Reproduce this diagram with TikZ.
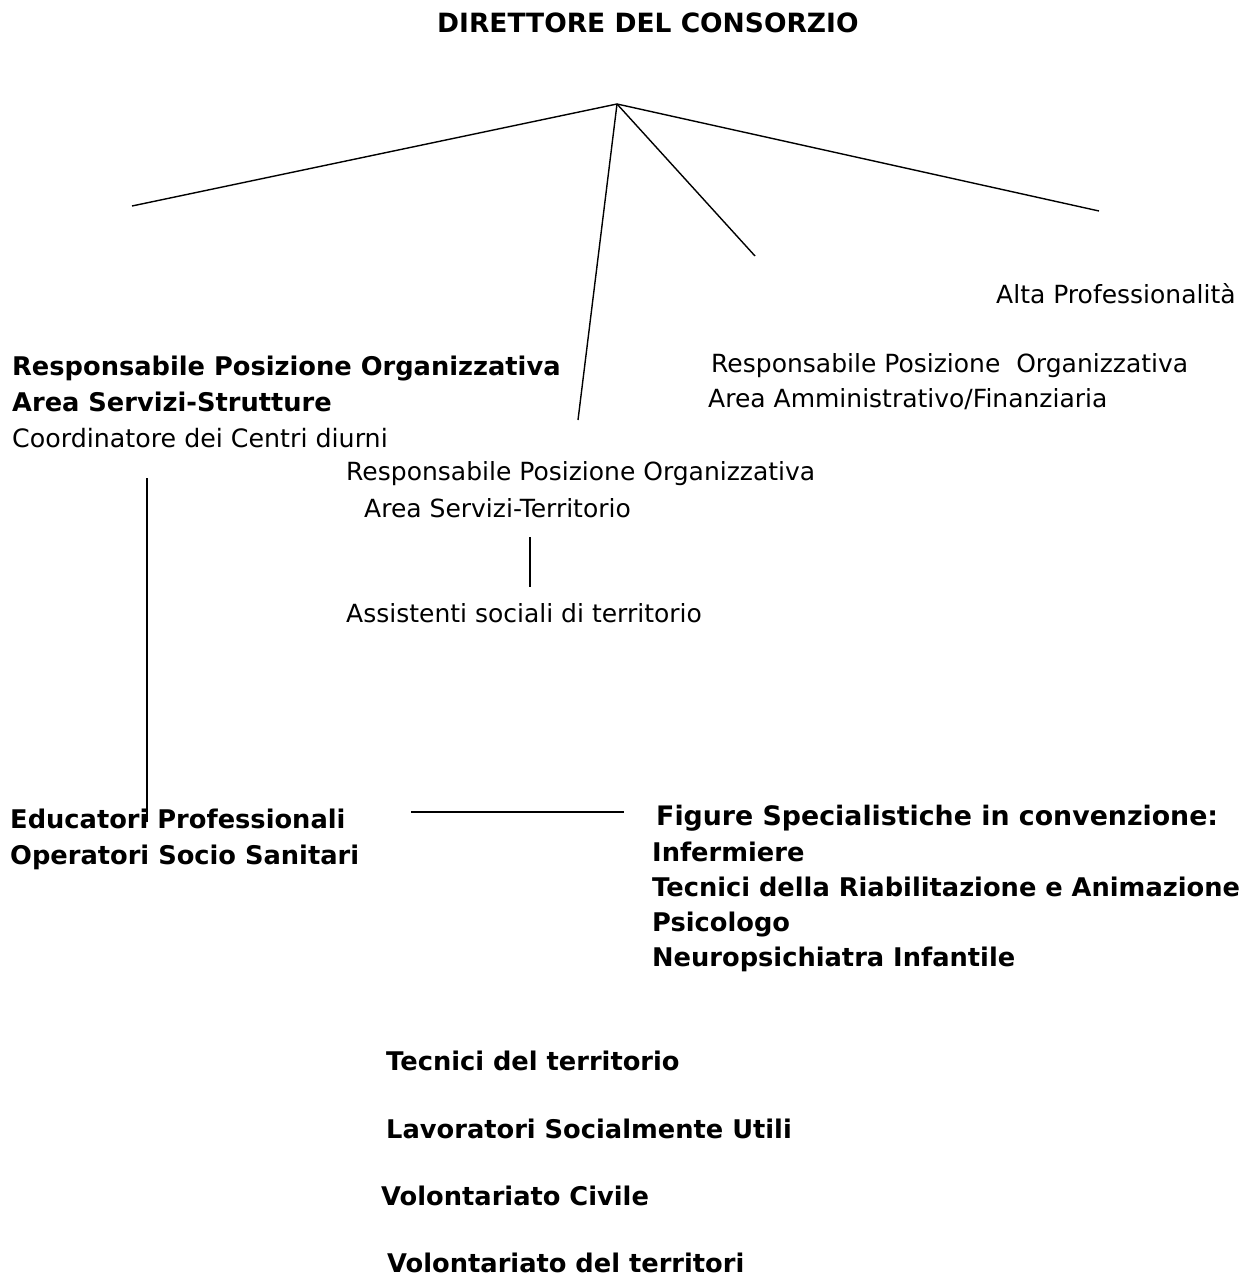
\documentclass[tikz,border=0pt]{standalone}
\usepackage{fontspec}
\setmainfont{DejaVu Sans}
\begin{document}
\begin{tikzpicture}[x=1pt,y=-1pt,
  lbl/.style={anchor=base west,inner sep=0pt,font=\fontsize{25}{36}\selectfont},
  blbl/.style={lbl,font=\fontsize{25.7}{36}\selectfont\bfseries},
  conn/.style={line width=1.4pt,black}]
\useasboundingbox[fill=white] (0,0) rectangle (1252,1276);
% texts
\node[blbl,font=\fontsize{26.5}{36}\selectfont\bfseries] (dir) at (437,33) {DIRETTORE DEL CONSORZIO};
\node[lbl] (alta) at (996,303) {Alta Professionalità};
\node[lbl] (amm1) at (711,372) {Responsabile Posizione\ \ Organizzativa};
\node[lbl] (amm2) at (708,407) {Area Amministrativo/Finanziaria};
\node[blbl] (str1) at (12,375) {Responsabile Posizione Organizzativa};
\node[blbl] (str2) at (12,411) {Area Servizi-Strutture};
\node[lbl,font=\fontsize{25.3}{36}\selectfont] (str3) at (12,447) {Coordinatore dei Centri diurni};
\node[lbl] (ter1) at (346,480) {Responsabile Posizione Organizzativa};
\node[lbl] (ter2) at (364,517) {Area Servizi-Territorio};
\node[lbl] (ass) at (346,622) {Assistenti sociali di territorio};
\node[blbl] (edu) at (10,828) {Educatori Professionali};
\node[blbl] (oss) at (10,864) {Operatori Socio Sanitari};
\node[blbl,font=\fontsize{26.8}{36}\selectfont\bfseries] (fig) at (656,825) {Figure Specialistiche in convenzione:};
\node[blbl] (inf) at (652,861) {Infermiere};
\node[blbl] (tec) at (652,896) {Tecnici della Riabilitazione e Animazione};
\node[blbl] (psi) at (652,931) {Psicologo};
\node[blbl] (neu) at (652,966) {Neuropsichiatra Infantile};
\node[blbl] (tter) at (386,1070) {Tecnici del territorio};
\node[blbl] (lsu) at (386,1138) {Lavoratori Socialmente Utili};
\node[blbl] (vciv) at (381,1205) {Volontariato Civile};
\node[blbl] (vter) at (387,1272) {Volontariato del territori};
% connector points
\coordinate (apex) at (617,104);
\coordinate (eL) at (132,206);
\coordinate (eM) at (578,420);
\coordinate (eR1) at (755,256);
\coordinate (eR2) at (1099,211);
\coordinate (vlT) at (147,478);
\coordinate (vlB) at (147,822);
\coordinate (vmT) at (530,537);
\coordinate (vmB) at (530,587);
\coordinate (hL) at (411,812);
\coordinate (hR) at (624,812);
% connectors
\draw[conn] (apex) -- (eL);
\draw[conn] (apex) -- (eM);
\draw[conn] (apex) -- (eR1);
\draw[conn] (apex) -- (eR2);
\draw[conn] (vlT) -- (vlB);
\draw[conn] (vmT) -- (vmB);
\draw[conn] (hL) -- (hR);
\end{tikzpicture}
\end{document}
